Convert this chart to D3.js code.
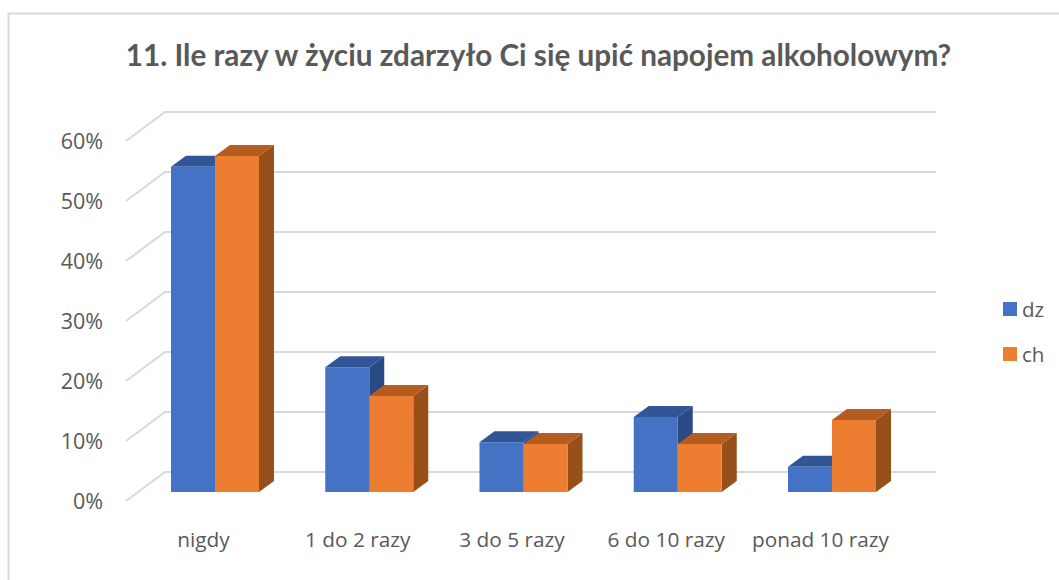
<!DOCTYPE html>
<html><head><meta charset="utf-8">
<script src="https://cdn.jsdelivr.net/npm/d3@7/dist/d3.min.js"></script>
<style>html,body{margin:0;padding:0;background:#fff}svg{display:block}text{font-family:"Open Sans",sans-serif;fill:#595959}.t{font-family:Lato,sans-serif}</style>
</head><body><svg id="c" width="1059" height="580"></svg>
<script>
const titleText = "11. Ile razy w życiu zdarzyło Ci się upić napojem alkoholowym?";
const categories = ["nigdy","1 do 2 razy","3 do 5 razy","6 do 10 razy","ponad 10 razy"];
const seriesNames = ["dz","ch"];
const dz = [54.2,20.8,8.3,12.5,4.2];
const ch = [56,16,8,8,12];
const ticks = [0,10,20,30,40,50,60];
const colors = {dz:{front:"#4472c4",top:"#325597",side:"#2a4a85"},ch:{front:"#ed7d31",top:"#b55d20",side:"#98501b"}};

const svg = d3.select("#c");
const depthX = 15, depthY = 11;
const y = d3.scaleLinear().domain([0,60]).range([492,132]);
const x0 = d3.scaleBand().domain(categories).range([171, 171+154.25*5]);
const barW = 44;
const x1 = d3.scaleBand().domain(seriesNames).range([0,barW*2]);

svg.append("path").attr("d","M1059,13.5H8.5V580").attr("fill","none").attr("stroke","#d9d9d9").attr("stroke-width",2);

svg.append("text").attr("class","t").attr("x",538.5).attr("y",66).attr("text-anchor","middle")
  .attr("font-size",29.7).attr("font-weight",700).text(titleText);

const gx0=126, gx1=165, gx2=936, dy=29;
ticks.forEach(t=>{
  const yb = y(t)-20;
  svg.append("path").attr("d",`M${gx0},${yb+dy}L${gx1},${yb}H${gx2}`)
    .attr("fill","none").attr("stroke","#d9d9d9").attr("stroke-width",2);
  svg.append("text").attr("x",103).attr("y",yb+37).attr("text-anchor","end")
    .attr("font-size",21.5).text(t+"%");
});

categories.forEach((c,i)=>{
  seriesNames.forEach((s,k)=>{
    const v = (s==="dz"?dz:ch)[i];
    const l = x0(c)+x1(s), w=x1.bandwidth(), t=y(v), b=y(0), col=colors[s];
    const g = svg.append("g");
    g.append("path").attr("fill",col.side).attr("d",`M${l+w},${t}l${depthX},${-depthY}V${b-depthY}l${-depthX},${depthY}Z`);
    g.append("path").attr("fill",col.top).attr("d",`M${l},${t}l${depthX},${-depthY}h${w}l${-depthX},${depthY}Z`);
    g.append("rect").attr("x",l).attr("y",t).attr("width",w).attr("height",b-t).attr("fill",col.front);
  });
  svg.append("text").attr("x",x0(c)+32.5).attr("y",547).attr("text-anchor","middle")
    .attr("font-size",20.8).text(c);
});

seriesNames.forEach((s,i)=>{
  const ly = 302+45*i;
  svg.append("rect").attr("x",1003).attr("y",ly).attr("width",14).attr("height",14).attr("fill",colors[s].front);
  svg.append("text").attr("x",1022).attr("y",ly+15).attr("font-size",20.5).text(s);
});
</script></body></html>
